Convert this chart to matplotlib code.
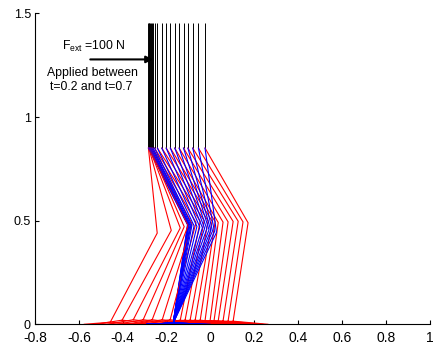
import matplotlib
matplotlib.use("Agg")
import matplotlib.pyplot as plt

plt.rcParams['font.family'] = ['Liberation Sans', 'DejaVu Sans']
plt.rcParams['mathtext.fontset'] = 'custom'
plt.rcParams['mathtext.rm'] = 'Liberation Sans'
plt.rcParams['mathtext.it'] = 'Liberation Sans'
plt.rcParams['axes.unicode_minus'] = False

# ---- data ----
hip_x = [-0.283, -0.281, -0.279, -0.276, -0.273, -0.268, -0.263, -0.255, -0.242,
         -0.222, -0.202, -0.183, -0.163, -0.143, -0.123, -0.103, -0.081, -0.055, -0.025]
hip_y = 0.85
trunk_top_y = 1.455

# red (swing) leg
red_knee_x = [-0.243, -0.179, -0.138, -0.120, -0.102, -0.084, -0.066, -0.047, -0.029,
              -0.011, 0.007, 0.021, 0.035, 0.057, 0.080, 0.103, 0.126, 0.148, 0.171]
red_knee_y = [0.440, 0.453, 0.465, 0.471, 0.477, 0.484, 0.491, 0.497, 0.500,
              0.499, 0.498, 0.495, 0.491, 0.493, 0.494, 0.496, 0.497, 0.494, 0.490]
red_ankle_x = [-0.457, -0.403, -0.352, -0.307, -0.266, -0.220, -0.184, -0.138, -0.116,
               -0.093, -0.070, -0.047, -0.025, -0.002, 0.016, 0.035, 0.057, 0.080, 0.103]
red_ankle_y = [0.010, 0.020, 0.022, 0.022, 0.022, 0.022, 0.022, 0.020, 0.020,
               0.020, 0.020, 0.020, 0.018, 0.018, 0.018, 0.016, 0.016, 0.015, 0.015]
red_heel_x = [-0.577, -0.523, -0.472, -0.427, -0.386, -0.340, -0.304, -0.258, -0.236,
              -0.213, -0.190, -0.167, -0.145, -0.122, -0.104, -0.085, -0.063, -0.040, -0.017]
red_toe_x = [-0.297, -0.243, -0.192, -0.147, -0.106, -0.060, -0.024, 0.022, 0.044,
             0.067, 0.090, 0.113, 0.135, 0.158, 0.176, 0.195, 0.217, 0.240, 0.263]

# blue (stance) leg
blue_knee_x = [-0.105, -0.104, -0.102, -0.100, -0.098, -0.094, -0.090, -0.085, -0.075,
               -0.062, -0.049, -0.037, -0.027, -0.017, -0.007, 0.001, 0.009, 0.018, 0.027]
blue_knee_y = [0.481, 0.480, 0.480, 0.479, 0.479, 0.478, 0.477, 0.476, 0.475,
               0.472, 0.469, 0.466, 0.463, 0.460, 0.456, 0.453, 0.450, 0.447, 0.443]
blue_ankle = (-0.170, 0.006)
blue_heel_x = -0.290
blue_toe_x = 0.000

xticks = [-0.8, -0.6, -0.4, -0.2, 0, 0.2, 0.4, 0.6, 0.8, 1]
xticklabels = ['-0.8', '-0.6', '-0.4', '-0.2', '0', '0.2', '0.4', '0.6', '0.8', '1']
yticks = [0, 0.5, 1, 1.5]
yticklabels = ['0', '0.5', '1', '1.5']

force_label = r'F$_{\rm ext}$ =100 N'
note_lines = ['Applied between', 't=0.2 and t=0.7']

# ---- figure ----
fig = plt.figure(figsize=(4.33, 3.44), dpi=100)
ax = fig.add_axes([0.0808, 0.0573, 0.9122, 0.9037])

lw = 0.8
for i in range(len(hip_x)):
    h = hip_x[i]
    ax.plot([h, h], [hip_y, trunk_top_y], color='black', lw=0.7, solid_capstyle='butt')
    ax.plot([h, red_knee_x[i], red_ankle_x[i], red_toe_x[i], red_heel_x[i], red_ankle_x[i]],
            [hip_y, red_knee_y[i], red_ankle_y[i], 0.0, 0.0, red_ankle_y[i]],
            color='red', lw=lw)
    ax.plot([h, blue_knee_x[i], blue_ankle[0], blue_toe_x, blue_heel_x, blue_ankle[0]],
            [hip_y, blue_knee_y[i], blue_ankle[1], 0.0, 0.0, blue_ankle[1]],
            color='blue', lw=lw)

ax.annotate('', xy=(-0.262, 1.278), xytext=(-0.548, 1.278),
            arrowprops=dict(arrowstyle='-|>', lw=1.5, color='black', mutation_scale=10,
                            shrinkA=0, shrinkB=0))
ax.text(-0.676, 1.323, force_label, fontsize=8.8, ha='left', va='baseline')
ax.text(-0.539, 1.212, note_lines[0], fontsize=8.8, ha='center', va='center')
ax.text(-0.543, 1.145, note_lines[1], fontsize=8.8, ha='center', va='center')

ax.set_xlim(-0.8, 1)
ax.set_ylim(0, 1.5)
ax.set_xticks(xticks)
ax.set_xticklabels(xticklabels)
ax.set_yticks(yticks)
ax.set_yticklabels(yticklabels)
ax.spines['top'].set_visible(False)
ax.spines['right'].set_visible(False)
for s in ('left', 'bottom'):
    ax.spines[s].set_linewidth(0.8)
ax.tick_params(direction='in', length=3, width=0.8, pad=3)
ax.tick_params(axis='y', labelsize=9)
ax.tick_params(axis='x', labelsize=10, pad=4.5)

fig.savefig('out.png', dpi=100)
